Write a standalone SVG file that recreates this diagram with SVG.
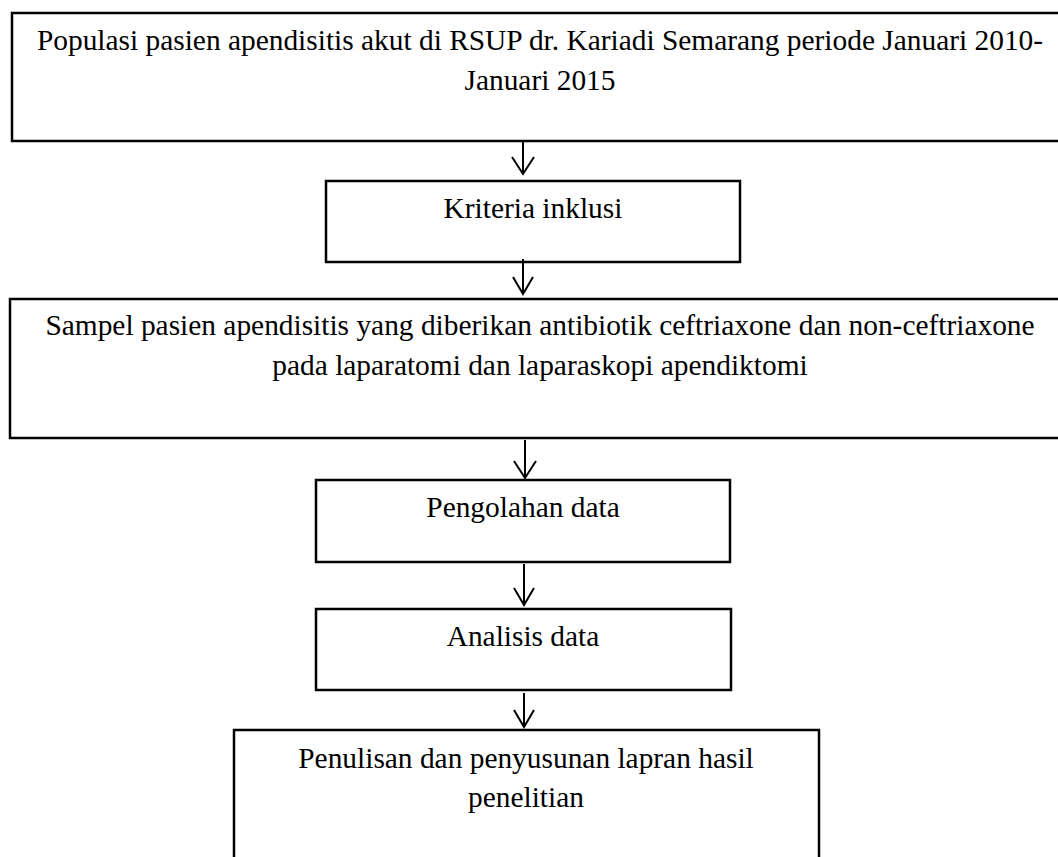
<svg xmlns="http://www.w3.org/2000/svg" width="1058" height="857" viewBox="0 0 1058 857">
<style>
.box{fill:#fff;stroke:#000;stroke-width:2.5}
.t{font-family:"Liberation Serif","Times New Roman",serif;font-size:29.4px;fill:#000;text-anchor:middle}
.c{fill:none;stroke:#000;stroke-width:2}
</style>
<rect width="1058" height="857" fill="#fff"/>
<g id="n1"><rect class="box" x="12" y="13" width="1060" height="128"/>
<text class="t" x="540" y="50">Populasi pasien apendisitis akut di RSUP dr. Kariadi Semarang periode Januari 2010-</text>
<text class="t" x="540" y="90">Januari 2015</text></g>
<g id="n2"><rect class="box" x="326" y="181" width="414" height="81"/>
<text class="t" x="533" y="218">Kriteria inklusi</text></g>
<g id="n3"><rect class="box" x="10" y="299" width="1062" height="139"/>
<text class="t" x="540" y="335">Sampel pasien apendisitis yang diberikan antibiotik ceftriaxone dan non-ceftriaxone</text>
<text class="t" x="540" y="375">pada laparatomi dan laparaskopi apendiktomi</text></g>
<g id="n4"><rect class="box" x="316" y="480" width="414" height="82"/>
<text class="t" x="523" y="517">Pengolahan data</text></g>
<g id="n5"><rect class="box" x="316" y="609" width="415" height="81"/>
<text class="t" x="523" y="646">Analisis data</text></g>
<g id="n6"><rect class="box" x="234" y="730" width="585" height="140"/>
<text class="t" x="526" y="768">Penulisan dan penyusunan lapran hasil</text>
<text class="t" x="526" y="807">penelitian</text></g>
<g id="connectors">
<path class="c" d="M523 142V174M512 157L523 174L534 157"/>
<path class="c" d="M523 259V294M513 277L523 294L533 277"/>
<path class="c" d="M525 440V478M514 461L525 478L536 461"/>
<path class="c" d="M524 564V605M514 588L524 605L534 588"/>
<path class="c" d="M524 693V727M514 710L524 727L534 710"/>
</g>
</svg>
